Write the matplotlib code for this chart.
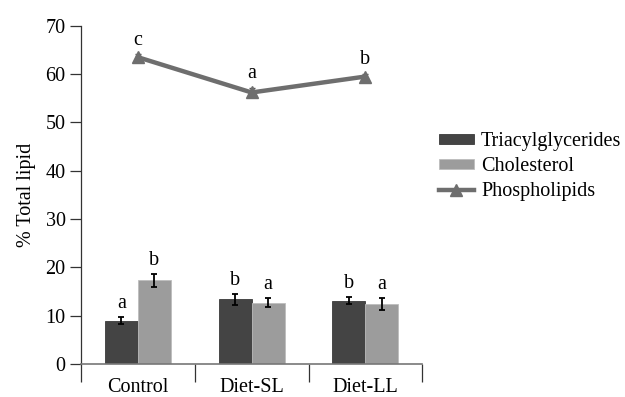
import numpy as np
import matplotlib.pyplot as plt

plt.rcParams['font.family'] = ['Liberation Serif', 'DejaVu Serif']

groups = ["Control", "Diet-SL", "Diet-LL"]
tg = [9.0, 13.4, 13.1]
tg_err = [0.8, 1.1, 0.7]
tg_lab = ["a", "b", "b"]
chol = [17.3, 12.7, 12.4]
chol_err = [1.3, 0.9, 1.2]
chol_lab = ["b", "a", "a"]
phos = [63.5, 56.2, 59.5]
phos_err = [0.6, 1.0, 0.6]
phos_lab = ["c", "a", "b"]

fs = 14.5

fig = plt.figure(figsize=(6.25, 3.97), dpi=100)
ax = fig.add_axes([0.1296, 0.083, 0.546, 0.852])

x = np.arange(len(groups))
w = 0.29
b1 = ax.bar(x - w / 2, tg, w, color="#444444", edgecolor="#3a3a3a", linewidth=0.6,
            label="Triacylglycerides", zorder=2)
b2 = ax.bar(x + w / 2, chol, w, color="#9c9c9c", edgecolor="#bdbdbd", linewidth=0.6,
            label="Cholesterol", zorder=2)
ax.errorbar(x - w / 2, tg, yerr=tg_err, fmt="none", ecolor="black", elinewidth=1.3,
            capsize=2.5, capthick=1.3, zorder=3)
ax.errorbar(x + w / 2, chol, yerr=chol_err, fmt="none", ecolor="black", elinewidth=1.3,
            capsize=2.5, capthick=1.3, zorder=3)
ax.errorbar(x, phos, yerr=phos_err, fmt="none", ecolor="#555555", elinewidth=1.3,
            capsize=2.5, zorder=4)
l1, = ax.plot(x, phos, color="#6e6e6e", linewidth=3.2, marker="^", markersize=8,
              label="Phospholipids", zorder=5)

for i in range(len(groups)):
    ax.annotate(tg_lab[i], (x[i] - w / 2, tg[i] + tg_err[i]), xytext=(0, 3),
                textcoords="offset points", ha="center", va="bottom", fontsize=fs)
    ax.annotate(chol_lab[i], (x[i] + w / 2, chol[i] + chol_err[i]), xytext=(0, 3),
                textcoords="offset points", ha="center", va="bottom", fontsize=fs)
    ax.annotate(phos_lab[i], (x[i], phos[i] + phos_err[i]), xytext=(0, 3),
                textcoords="offset points", ha="center", va="bottom", fontsize=fs)

ax.set_xlim(-0.5, 2.5)
ax.set_ylim(0, 70)
ax.set_yticks(range(0, 71, 10))
ax.set_xticks(x)
ax.set_xticklabels(groups, fontsize=fs)
ax.set_xticks([-0.5, 0.5, 1.5, 2.5], minor=True)
ax.tick_params(axis="x", which="major", length=0, pad=10)
ax.tick_params(axis="x", which="minor", length=13, width=0.9, color="#333333")
ax.tick_params(axis="y", labelsize=fs, length=8, width=0.9, color="#333333", pad=3)
ax.set_ylabel("% Total lipid", fontsize=fs, labelpad=7)
ax.spines["top"].set_visible(False)
ax.spines["right"].set_visible(False)
ax.spines["bottom"].set_color("#777777")
ax.spines["bottom"].set_linewidth(1.2)
ax.spines["left"].set_color("#333333")
ax.spines["left"].set_linewidth(0.9)

ax.legend([b1, b2, l1], ["Triacylglycerides", "Cholesterol", "Phospholipids"],
          loc="center left", bbox_to_anchor=(0.995, 0.583), frameon=False,
          fontsize=fs, handlelength=1.75, handleheight=0.4, handletextpad=0.35,
          labelspacing=0.3)

fig.savefig("out.png", dpi=100)
